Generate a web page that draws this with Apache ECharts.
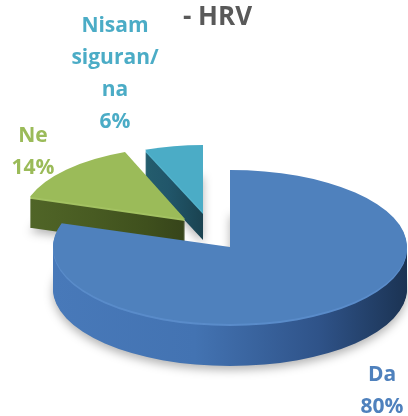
<!DOCTYPE html>
<html>
<head>
<meta charset="utf-8">
<script src="https://cdn.jsdelivr.net/npm/echarts@6/dist/echarts.min.js"></script>
<style>
html, body { margin: 0; padding: 0; background: #fff; }
#main { width: 408px; height: 416px; }
</style>
</head>
<body>
<div id="main"></div>
<script>
var titleText = '- HRV';
var categories = ['Da', 'Ne', 'Nisam siguran/na'];
var values = [80, 14, 6];

// izgled kriški - 3d pita crtana rucno (nema echarts-gl)
var sliceLook = [
    {cx: 230, cy: 247, rx: 177, ry: 77, depth: 42, top: '#4f81bd', bevel: '#5a8cca',
        side: ['#4879b9', '#4373b2', '#2f5389', '#1b3353'], lx: 382, ly: 391, z: 3},
    {cx: 185, cy: 219, rx: 163, ry: 72, depth: 31, top: '#9bbb59', bevel: '#a3c262',
        side: ['#506527', '#485b22', '#3f501d', '#36441a'], lx: 33, ly: 152, z: 2},
    {cx: 203, cy: 212, rx: 157, ry: 67, depth: 28, top: '#4bacc6', bevel: '#53b3cc',
        side: ['#245d6d', '#21566a', '#1d4b5b', '#1a4250'], lx: 115, ly: 74, z: 1}
];
var fontName = '"Open Sans", "Liberation Sans", sans-serif';

var total = 0;
for (var i = 0; i < values.length; i++) total += values[i];

function labelText(idx) {
    var name = categories[idx].replace(' ', '\n').replace('/', '/\n');
    return name + '\n' + values[idx] + '%';
}

function renderSlice(params, api) {
    var idx = params.dataIndex;
    var look = sliceLook[idx];
    var before = 0;
    for (var j = 0; j < idx; j++) before += values[j];
    var a0 = -Math.PI / 2 + 2 * Math.PI * before / total;
    var a1 = a0 + 2 * Math.PI * values[idx] / total;
    var k = look.ry / look.rx;
    var sideFill = new echarts.graphic.LinearGradient(0, 0, 1, 0, [
        {offset: 0, color: look.side[0]},
        {offset: 0.4, color: look.side[1]},
        {offset: 0.75, color: look.side[2]},
        {offset: 1, color: look.side[3]}
    ]);
    var kids = [];
    var n = 0;
    for (var t = look.depth; t >= 1; t--) {
        var st = {fill: sideFill};
        if (t === look.depth) {
            st.shadowBlur = 10;
            st.shadowColor = 'rgba(0,0,0,0.3)';
            st.shadowOffsetY = 4;
        }
        if (t <= 2) st = {fill: look.bevel};
        kids.push({
            type: 'sector',
            shape: {cx: 0, cy: t / k, r: look.rx, r0: 0, startAngle: a0, endAngle: a1, clockwise: true},
            style: st,
            z2: look.z * 1000 + n++
        });
    }
    kids.push({
        type: 'sector',
        shape: {cx: 0, cy: 0, r: look.rx, r0: 0, startAngle: a0, endAngle: a1, clockwise: true},
        style: {fill: look.top},
        z2: look.z * 1000 + n++
    });
    return {
        type: 'group',
        children: [
            {type: 'group', x: look.cx, y: look.cy, scaleY: k, children: kids},
            {
                type: 'text',
                z2: 9000,
                style: {
                    text: labelText(idx),
                    x: look.lx, y: look.ly,
                    align: 'center', verticalAlign: 'middle',
                    fill: look.top,
                    fontSize: 21, fontWeight: 'bold', fontFamily: fontName,
                    lineHeight: 32
                }
            }
        ]
    };
}

var chart = echarts.init(document.getElementById('main'));
var option = {
    animation: false,
    backgroundColor: '#fff',
    title: {
        text: titleText,
        left: 183,
        top: 5,
        padding: 0,
        textStyle: {fontSize: 26, fontWeight: 'bold', color: '#595959', fontFamily: fontName}
    },
    series: [{
        type: 'custom',
        coordinateSystem: 'none',
        renderItem: renderSlice,
        data: values
    }]
};
chart.setOption(option);
</script>
</body>
</html>
